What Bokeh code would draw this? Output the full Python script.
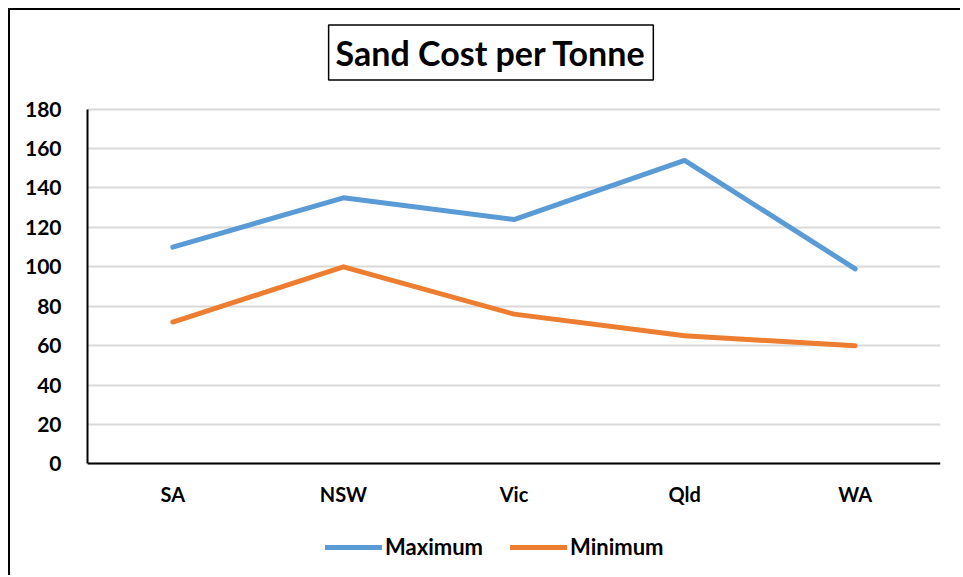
from bokeh.plotting import figure
from bokeh.models import (Legend, LegendItem, FixedTicker, Range1d, FactorRange, Label)
from bokeh.embed import file_html
from bokeh.resources import INLINE

states = ["SA", "NSW", "Vic", "Qld", "WA"]
maximum = [110, 135, 124, 154, 99]
minimum = [72, 100, 76, 65, 60]
y_ticks = [0, 20, 40, 60, 80, 100, 120, 140, 160, 180]
title_text = "Sand Cost per Tonne"

FONT = "Lato"

p = figure(frame_width=853, frame_height=546, output_backend="svg", toolbar_location=None,
           x_range=FactorRange(*states), y_range=Range1d(-50, 227),
           min_border_left=77, min_border_right=20, min_border_top=6, min_border_bottom=13)
p.outline_line_color = None
p.styles = {"border-left": "2px solid black", "border-top": "2px solid black",
            "margin-left": "8px", "margin-top": "8px"}

title = Label(x=2.365, y=208.7, text=title_text, text_align="center", text_baseline="middle",
              text_font=FONT, text_font_style="bold", text_font_size="34px", text_color="black",
              border_line_color="black", border_line_width=1.5, padding=7,
              background_fill_color="white")
p.add_layout(title)

r_max = p.line(states, maximum, line_color="#5B9BD5", line_width=5, line_cap="round", line_join="round")
r_min = p.line(states, minimum, line_color="#ED7D31", line_width=5, line_cap="round", line_join="round")

p.yaxis.ticker = FixedTicker(ticks=y_ticks)
p.yaxis.bounds = (0, 180)
p.ygrid.ticker = FixedTicker(ticks=y_ticks)
p.xgrid.grid_line_color = None
p.ygrid.grid_line_color = "#d9d9d9"
p.ygrid.grid_line_width = 2
p.xaxis.fixed_location = 0

for ax in (p.xaxis, p.yaxis):
    ax.axis_line_color = "black"
    ax.axis_line_width = 2
    ax.major_tick_line_color = None
    ax.minor_tick_line_color = None
    ax.major_label_text_font = FONT
    ax.major_label_text_font_style = "bold"
    ax.major_label_text_font_size = "20px"
    ax.major_label_text_color = "black"
p.yaxis.major_label_text_font_size = "21px"
p.yaxis.major_label_standoff = 20
p.xaxis.major_label_standoff = 12

legend = Legend(items=[LegendItem(label="Maximum", renderers=[r_max]),
                       LegendItem(label="Minimum", renderers=[r_min])],
                orientation="horizontal", location=(238, 2),
                glyph_width=57, glyph_height=20, label_standoff=3, spacing=27,
                padding=0, margin=0, border_line_color=None, background_fill_alpha=0,
                label_text_font=FONT, label_text_font_style="bold", label_text_font_size="22px",
                label_text_color="black")
p.add_layout(legend, "center")

open("out.html", "w").write(file_html(p, INLINE))
